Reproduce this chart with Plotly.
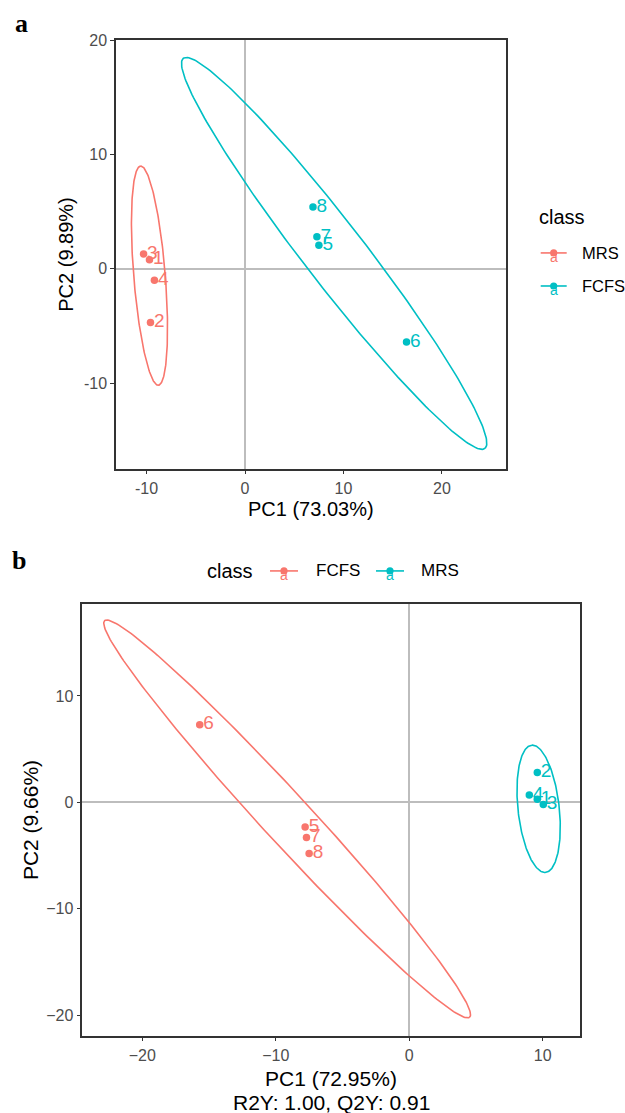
import numpy as np
import plotly.graph_objects as go

# ---------------- data ----------------
# Panel a (PCA)
A_MRS_ID = ["1", "2", "3", "4"]
A_MRS_PC1 = [-9.7, -9.6, -10.3, -9.2]
A_MRS_PC2 = [0.8, -4.7, 1.3, -1.0]
A_FCFS_ID = ["5", "6", "7", "8"]
A_FCFS_PC1 = [7.5, 16.4, 7.3, 6.9]
A_FCFS_PC2 = [2.05, -6.4, 2.8, 5.4]
# ellipse parameters: centre x, centre y, semi-major, semi-minor, angle (deg)
A_MRS_ELL = [-9.7, -0.6, 9.64, 1.6, 95.4]
A_FCFS_ELL = [9.05, 1.35, 22.94, 2.9, -48.0]

# Panel b (PLS-DA)
B_FCFS_ID = ["5", "6", "7", "8"]
B_FCFS_PC1 = [-7.8, -15.7, -7.7, -7.5]
B_FCFS_PC2 = [-2.3, 7.3, -3.3, -4.8]
B_MRS_ID = ["1", "2", "3", "4"]
B_MRS_PC1 = [9.6, 9.6, 10.05, 9.0]
B_MRS_PC2 = [0.3, 2.8, -0.2, 0.7]
B_FCFS_ELL = [-9.15, -1.55, 23.11, 2.0, -53.8]
B_MRS_ELL = [9.7, -0.6, 6.0, 1.55, 94.8]

A_TICKS = [-10, 0, 10, 20]
A_TICKTEXT = ["-10", "0", "10", "20"]
B_TICKS = [-20, -10, 0, 10]

RED = "#F8766D"
CYAN = "#00BFC4"
FONT = "Liberation Sans, Arial, sans-serif"
W, H = 625, 1113


def px(x):
    return x / W


def py(y):
    return 1 - y / H


def ellipse(p, n=240):
    cx, cy, a, b, ang = p
    t = np.linspace(0, 2 * np.pi, n)
    th = np.radians(ang)
    x = cx + a * np.cos(t) * np.cos(th) - b * np.sin(t) * np.sin(th)
    y = cy + a * np.cos(t) * np.sin(th) + b * np.sin(t) * np.cos(th)
    return x, y


fig = go.Figure()


def add_group(xs, ys, ids, ell, color, xa, ya):
    ex, ey = ellipse(ell)
    fig.add_trace(go.Scatter(x=ex, y=ey, mode="lines", line=dict(color=color, width=1.6),
                             xaxis=xa, yaxis=ya, showlegend=False, hoverinfo="skip"))
    fig.add_trace(go.Scatter(x=xs, y=ys, mode="markers",
                             marker=dict(color=color, size=7.5),
                             xaxis=xa, yaxis=ya, showlegend=False))
    fig.add_trace(go.Scatter(x=xs, y=ys, mode="markers+text", text=ids,
                             textposition="middle right",
                             textfont=dict(family=FONT, size=19, color=color),
                             marker=dict(color=color, size=4, opacity=0),
                             xaxis=xa, yaxis=ya, showlegend=False, cliponaxis=False,
                             hoverinfo="skip"))


add_group(A_MRS_PC1, A_MRS_PC2, A_MRS_ID, A_MRS_ELL, RED, "x", "y")
add_group(A_FCFS_PC1, A_FCFS_PC2, A_FCFS_ID, A_FCFS_ELL, CYAN, "x", "y")
add_group(B_FCFS_PC1, B_FCFS_PC2, B_FCFS_ID, B_FCFS_ELL, RED, "x2", "y2")
add_group(B_MRS_PC1, B_MRS_PC2, B_MRS_ID, B_MRS_ELL, CYAN, "x2", "y2")

axis_common = dict(showgrid=False, zeroline=True, zerolinecolor="#BDBDBD", zerolinewidth=1.5,
                   showline=True, mirror=True, linecolor="#333333", linewidth=1.5,
                   ticks="outside", ticklen=4, tickwidth=1.3, tickcolor="#333333",
                   tickfont=dict(family=FONT, size=16, color="#4D4D4D"))

fig.update_layout(
    width=W, height=H, margin=dict(l=0, r=0, t=0, b=0),
    paper_bgcolor="white", plot_bgcolor="white", showlegend=False,
    xaxis=dict(domain=[px(116), px(506)], range=[-13.1, 26.5], anchor="y",
               tickvals=A_TICKS, ticktext=A_TICKTEXT, **axis_common),
    yaxis=dict(domain=[py(464), py(32)], range=[-17.5, 20.05], anchor="x",
               tickvals=A_TICKS, ticktext=A_TICKTEXT, **axis_common),
    xaxis2=dict(domain=[px(82.3), px(580)], range=[-24.5, 12.8], anchor="y2",
                tickvals=B_TICKS, **axis_common),
    yaxis2=dict(domain=[py(1035), py(600.7)], range=[-21.9, 18.6], anchor="x2",
                tickvals=B_TICKS, **axis_common),
)

ann = []
shapes = []


def text(x, y, s, size, color="black", xanchor="center", angle=0, family=FONT, bold=False):
    ann.append(dict(x=px(x), y=py(y), xref="paper", yref="paper", text=("<b>%s</b>" % s) if bold else s,
                    showarrow=False, xanchor=xanchor, yanchor="middle", textangle=angle,
                    font=dict(family=family, size=size, color=color)))


# panel letters
text(13, 16, "a", 26, family="Liberation Serif, Times New Roman, serif", bold=True, xanchor="left")
text(10, 556, "b", 26, family="Liberation Serif, Times New Roman, serif", bold=True, xanchor="left")

# axis titles
text(311, 505, "PC1 (73.03%)", 20)
text(66.5, 248, "PC2 (9.89%)", 20, angle=-90)
text(331, 1078, "PC1 (72.95%)", 21)
text(331, 1102, "R2Y: 1.00, Q2Y: 0.91", 21)
text(30, 818, "PC2 (9.66%)", 21, angle=-90)


def key(cx, cy, color, half=13):
    shapes.append(dict(type="line", xref="paper", yref="paper", x0=px(cx - half), x1=px(cx + half),
                       y0=py(cy), y1=py(cy), line=dict(color=color, width=1.6)))
    ann.append(dict(x=px(cx), y=py(cy + 4), xref="paper", yref="paper", text="a", showarrow=False,
                    xanchor="center", yanchor="middle", font=dict(family=FONT, size=14, color=color)))
    r = 3.6
    shapes.append(dict(type="circle", xref="paper", yref="paper", x0=px(cx - r), x1=px(cx + r),
                       y0=py(cy + r), y1=py(cy - r), fillcolor=color, line=dict(color=color, width=0)))


# legend a (vertical, right)
text(537, 211, "class", 20, xanchor="left")
key(553.7, 246.7, RED)
text(580, 246.7, "MRS", 16.5, xanchor="left")
key(553.7, 280, CYAN)
text(580, 280, "FCFS", 16.5, xanchor="left")

# legend b (horizontal, top)
text(205, 567, "class", 20, xanchor="left")
key(284, 567, RED, half=14)
text(314, 567, "FCFS", 17, xanchor="left")
key(390, 567, CYAN, half=14)
text(419, 567, "MRS", 17, xanchor="left")

fig.update_layout(annotations=ann, shapes=shapes)
fig.write_html("out.html")
